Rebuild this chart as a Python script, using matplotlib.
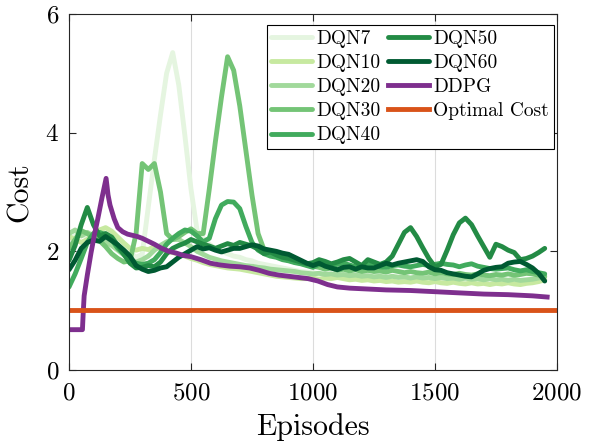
import numpy as np
import matplotlib
matplotlib.use("Agg")
import matplotlib.pyplot as plt

plt.rcParams['font.family'] = 'serif'
plt.rcParams['font.serif'] = ['cmr10']
plt.rcParams['mathtext.fontset'] = 'cm'
plt.rcParams['axes.formatter.use_mathtext'] = True

episodes = np.arange(0, 1951, 25)

dqn7 = [2.20, 2.26, 2.30, 2.24, 2.30, 2.36, 2.30, 2.24, 2.18, 2.08, 1.98, 1.90, 1.95, 2.75, 3.55, 4.30,
        5.00, 5.35, 4.80, 3.95, 3.05, 2.35, 2.22, 2.12, 2.05, 2.00, 1.96, 1.92, 1.90, 1.86, 1.84, 1.80,
        1.78, 1.76, 1.74, 1.72, 1.70, 1.68, 1.66, 1.65, 1.64, 1.62, 1.63, 1.61, 1.60, 1.62, 1.60, 1.58,
        1.60, 1.58, 1.57, 1.59, 1.57, 1.56, 1.58, 1.56, 1.55, 1.57, 1.55, 1.54, 1.56, 1.54, 1.53, 1.55,
        1.53, 1.52, 1.54, 1.52, 1.51, 1.53, 1.51, 1.50, 1.52, 1.50, 1.49, 1.51, 1.50, 1.52, 1.55]
dqn10 = [2.25, 2.20, 2.15, 2.20, 2.28, 2.36, 2.40, 2.34, 2.24, 2.14, 2.05, 2.02, 2.05, 2.03, 2.08, 2.04,
         2.00, 1.98, 1.95, 1.92, 1.88, 1.85, 1.81, 1.78, 1.76, 1.74, 1.72, 1.71, 1.70, 1.68, 1.66, 1.64,
         1.62, 1.60, 1.58, 1.57, 1.56, 1.55, 1.54, 1.54, 1.55, 1.53, 1.55, 1.54, 1.56, 1.54, 1.52, 1.53,
         1.51, 1.52, 1.50, 1.51, 1.49, 1.50, 1.48, 1.49, 1.48, 1.50, 1.48, 1.47, 1.49, 1.47, 1.46, 1.48,
         1.46, 1.45, 1.47, 1.45, 1.46, 1.44, 1.46, 1.45, 1.47, 1.45, 1.44, 1.46, 1.47, 1.49, 1.52]
dqn20 = [2.30, 2.36, 2.26, 2.32, 2.26, 2.22, 2.16, 2.10, 2.02, 1.94, 1.86, 1.82, 1.86, 1.92, 2.02, 2.10,
         2.16, 2.20, 2.20, 2.14, 2.08, 2.00, 1.95, 1.90, 1.87, 1.84, 1.82, 1.80, 1.78, 1.76, 1.75, 1.73,
         1.72, 1.70, 1.69, 1.68, 1.67, 1.66, 1.64, 1.63, 1.62, 1.63, 1.61, 1.62, 1.60, 1.61, 1.59, 1.60,
         1.58, 1.59, 1.57, 1.58, 1.56, 1.58, 1.56, 1.57, 1.55, 1.57, 1.55, 1.56, 1.54, 1.56, 1.54, 1.55,
         1.53, 1.55, 1.53, 1.54, 1.52, 1.54, 1.52, 1.53, 1.51, 1.53, 1.51, 1.52, 1.53, 1.55, 1.57]
dqn30 = [2.05, 2.20, 2.35, 2.30, 2.24, 2.18, 2.08, 1.96, 1.88, 1.82, 1.84, 2.30, 3.48, 3.38, 3.48, 3.00,
         2.30, 2.20, 2.25, 2.32, 2.38, 2.30, 2.30, 3.05, 3.85, 4.60, 5.28, 5.05, 4.45, 3.70, 2.95, 2.30,
         2.02, 1.96, 1.92, 1.88, 1.85, 1.82, 1.80, 1.77, 1.75, 1.73, 1.70, 1.72, 1.68, 1.70, 1.67, 1.69,
         1.66, 1.68, 1.66, 1.67, 1.65, 1.68, 1.66, 1.64, 1.66, 1.64, 1.63, 1.65, 1.62, 1.64, 1.62, 1.61,
         1.63, 1.61, 1.60, 1.62, 1.60, 1.59, 1.61, 1.60, 1.62, 1.60, 1.61, 1.63, 1.62, 1.60, 1.58]
dqn40 = [1.40, 1.62, 1.88, 2.15, 2.30, 2.32, 2.28, 2.20, 2.05, 1.95, 1.86, 1.80, 1.78, 1.80, 1.86, 1.98,
         2.12, 2.22, 2.30, 2.36, 2.34, 2.26, 2.16, 2.22, 2.55, 2.78, 2.84, 2.83, 2.72, 2.42, 2.15, 2.02,
         1.96, 1.92, 1.90, 1.86, 1.84, 1.81, 1.79, 1.76, 1.73, 1.78, 1.80, 1.76, 1.78, 1.80, 1.77, 1.74,
         1.76, 1.78, 1.76, 1.74, 1.73, 1.76, 1.77, 1.75, 1.74, 1.76, 1.78, 1.76, 1.78, 1.80, 1.78, 1.77,
         1.74, 1.77, 1.79, 1.75, 1.73, 1.71, 1.70, 1.71, 1.72, 1.69, 1.67, 1.69, 1.66, 1.64, 1.62]
dqn50 = [1.85, 2.10, 2.45, 2.74, 2.45, 2.26, 2.30, 2.24, 2.10, 1.95, 1.80, 1.72, 1.73, 1.76, 1.74, 1.82,
         1.96, 2.05, 2.10, 2.14, 2.20, 2.16, 2.12, 2.09, 2.05, 2.09, 2.13, 2.10, 2.15, 2.12, 2.09, 2.04,
         1.96, 1.99, 1.94, 1.90, 1.88, 1.85, 1.82, 1.79, 1.81, 1.86, 1.83, 1.79, 1.82, 1.86, 1.88, 1.82,
         1.76, 1.86, 1.82, 1.78, 1.82, 1.92, 2.12, 2.32, 2.40, 2.25, 2.06, 1.88, 1.74, 1.78, 2.02, 2.28,
         2.48, 2.56, 2.45, 2.26, 2.08, 1.90, 2.12, 2.08, 2.02, 1.98, 1.86, 1.88, 1.92, 1.98, 2.05]
dqn60 = [1.69, 1.85, 2.05, 2.15, 2.19, 2.17, 2.25, 2.18, 2.11, 2.02, 1.92, 1.76, 1.70, 1.66, 1.68, 1.72,
         1.74, 1.82, 1.90, 1.96, 2.02, 2.08, 2.04, 2.06, 2.02, 1.99, 2.02, 2.05, 2.05, 2.08, 2.11, 2.09,
         2.04, 2.02, 2.00, 1.97, 1.95, 1.90, 1.85, 1.80, 1.76, 1.80, 1.75, 1.72, 1.69, 1.73, 1.74, 1.70,
         1.74, 1.72, 1.72, 1.76, 1.80, 1.77, 1.80, 1.82, 1.84, 1.86, 1.83, 1.74, 1.69, 1.68, 1.64, 1.62,
         1.60, 1.58, 1.57, 1.62, 1.68, 1.71, 1.73, 1.74, 1.80, 1.82, 1.83, 1.78, 1.72, 1.63, 1.50]

ddpg_episodes = [0, 55, 58, 62, 75, 90, 105, 118, 135, 152, 160, 168, 185, 200, 220, 240, 260, 280, 300,
                 320, 350, 380, 410, 440, 470, 500, 540, 580, 620, 660, 700, 740, 780, 820, 860, 900, 940,
                 980, 1020, 1060, 1100, 1150, 1200, 1300, 1400, 1500, 1600, 1700, 1800, 1900, 1960]
ddpg = [0.68, 0.68, 0.95, 1.25, 1.60, 1.97, 2.30, 2.55, 2.90, 3.23, 2.95, 2.78, 2.55, 2.40, 2.33, 2.29,
        2.27, 2.25, 2.22, 2.18, 2.12, 2.05, 2.00, 1.97, 1.93, 1.91, 1.86, 1.80, 1.77, 1.75, 1.74, 1.72,
        1.68, 1.63, 1.60, 1.58, 1.56, 1.54, 1.50, 1.44, 1.40, 1.38, 1.37, 1.35, 1.34, 1.32, 1.30, 1.28,
        1.27, 1.25, 1.23]
optimal_cost = 1.01

labels = ['DQN7', 'DQN10', 'DQN20', 'DQN30', 'DQN40', 'DQN50', 'DQN60', 'DDPG', 'Optimal Cost']
colors = ['#e5f5e0', '#c7e9a0', '#a1d99b', '#74c476', '#41ab5d', '#238b45', '#005a32', '#7e2f8e', '#d95319']

fig = plt.figure(figsize=(5.95, 4.45), dpi=100)
ax = fig.add_axes([0.116, 0.1685, 0.820, 0.800])

lw = 3.5
for vals, lab, col in zip([dqn7, dqn10, dqn20, dqn30, dqn40, dqn50, dqn60], labels[:7], colors[:7]):
    ax.plot(episodes, vals, color=col, lw=lw, label=lab, solid_joinstyle='round', solid_capstyle='round')
ax.plot(ddpg_episodes, ddpg, color=colors[7], lw=lw, label=labels[7])
ax.plot([0, 2000], [optimal_cost, optimal_cost], color=colors[8], lw=lw, label=labels[8])

ax.set_xlim(0, 2000)
ax.set_ylim(0, 6)
ax.set_xticks([0, 500, 1000, 1500, 2000])
ax.set_yticks([0, 2, 4, 6])
ax.grid(axis='x', color='#dcdcdc', lw=0.8)
ax.set_axisbelow(True)
ax.tick_params(direction='in', top=True, right=True, length=5, width=0.8, labelsize=18, colors='#262626')
ax.tick_params(axis='x', pad=9)
ax.tick_params(axis='y', pad=7)
for lab in ax.get_xticklabels() + ax.get_yticklabels():
    lab.set_color('black')
for s in ax.spines.values():
    s.set_color('#262626')
    s.set_linewidth(0.8)
ax.set_xlabel('Episodes', fontsize=21.5, labelpad=6)
ax.set_ylabel('Cost', fontsize=21.5, labelpad=8)

leg = ax.legend(ncol=2, loc='upper right', bbox_to_anchor=(0.993, 0.97), fontsize=14,
                frameon=True, fancybox=False, edgecolor='black', framealpha=1,
                handlelength=2.1, handletextpad=0.2, columnspacing=0.4, labelspacing=0.32,
                borderpad=0.25, borderaxespad=0.0)
leg.get_frame().set_linewidth(0.8)

fig.savefig('out.png', dpi=100)
